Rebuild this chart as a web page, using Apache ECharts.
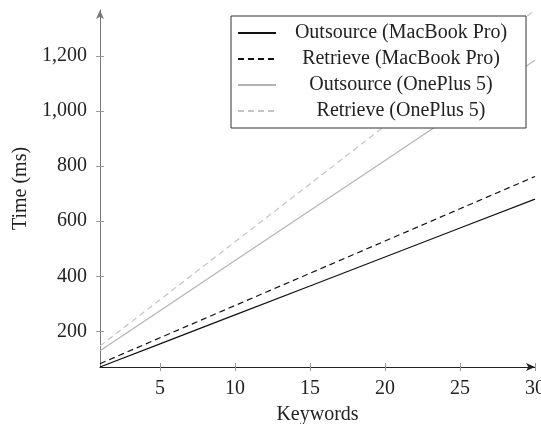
<!DOCTYPE html>
<html>
<head>
<meta charset="utf-8">
<script src="https://cdn.jsdelivr.net/npm/echarts@6/dist/echarts.min.js"></script>
<style>html,body{margin:0;padding:0;background:#fff}#c{width:541px;height:424px}</style>
</head>
<body>
<div id="c"></div>
<script>
var keywords = [1, 5, 10, 15, 20, 25, 30];
var outsourceMac = [71, 155, 260, 365, 470, 575, 680];
var retrieveMac = [83, 177, 294, 411, 528, 645, 762];
var outsourceOnePlus = [130, 275, 457, 639, 820, 1002, 1184];
var retrieveOnePlus = [147, 315, 525, 735, 946, 1156, 1366];
var xTicks = [5, 10, 15, 20, 25, 30];
var yTicks = [200, 400, 600, 800, 1000, 1200];
var seriesNames = ['Outsource (MacBook Pro)', 'Retrieve (MacBook Pro)', 'Outsource (OnePlus 5)', 'Retrieve (OnePlus 5)'];

function pairs(vals) { return keywords.map(function (k, i) { return [k, vals[i]]; }); }
var FONT = 'Liberation Serif';
var FS = 20;
var chart = echarts.init(document.getElementById('c'));
function mk(name, vals, color, type) {
  return { name: name, type: 'line', data: pairs(vals), symbol: 'none', silent: true,
    lineStyle: { color: color, width: 1.2, type: type }, itemStyle: { color: color } };
}
function fmtY(v) { return v >= 1000 ? Math.floor(v / 1000) + ',' + String(v % 1000).padStart(3, '0') : String(v); }
chart.setOption({
  animation: false,
  grid: { left: 100, right: 6, top: 10, bottom: 57, containLabel: false, outerBoundsMode: 'none' },
  xAxis: [{
    type: 'value', min: 1, max: 30, position: 'bottom',
    name: 'Keywords', nameLocation: 'middle', nameGap: 38,
    nameTextStyle: { fontFamily: FONT, fontSize: FS, color: '#222' },
    axisLine: { lineStyle: { color: '#222', width: 1 }, symbol: ['none', 'arrow'], symbolSize: [6, 9] },
    axisTick: { show: true, length: 4, lineStyle: { color: '#999' }, customValues: xTicks },
    axisLabel: { fontFamily: FONT, fontSize: FS, color: '#222', margin: 12, customValues: xTicks },
    splitLine: { show: false }
  }, {
    type: 'value', min: 1, max: 30, position: 'bottom', offset: 0,
    axisLine: { show: false },
    axisTick: { show: true, inside: true, length: 4, lineStyle: { color: '#999' }, customValues: xTicks },
    axisLabel: { show: false },
    splitLine: { show: false }
  }],
  yAxis: [{
    type: 'value', min: 71, max: 1366, position: 'left',
    name: 'Time (ms)', nameLocation: 'middle', nameGap: 68, nameRotate: 90,
    nameTextStyle: { fontFamily: FONT, fontSize: FS, color: '#222' },
    axisLine: { show: true, lineStyle: { color: '#777', width: 1 }, symbol: ['none', 'arrow'], symbolSize: [6, 9] },
    axisTick: { show: true, length: 4, lineStyle: { color: '#999' }, customValues: yTicks },
    axisLabel: { fontFamily: FONT, fontSize: FS, color: '#222', margin: 13, customValues: yTicks, formatter: fmtY },
    splitLine: { show: false }
  }, {
    type: 'value', min: 71, max: 1366, position: 'left', offset: 0,
    axisLine: { show: false },
    axisTick: { show: true, inside: true, length: 4, lineStyle: { color: '#999' }, customValues: yTicks },
    axisLabel: { show: false },
    splitLine: { show: false }
  }],
  legend: {
    left: 231, top: 16, orient: 'vertical',
    backgroundColor: '#fff', borderColor: '#333', borderWidth: 1, borderRadius: 0,
    padding: [7, 5, 7, 6], itemGap: 6, itemWidth: 38, itemHeight: 14,
    itemStyle: { opacity: 0 },
    data: seriesNames,
    formatter: function (n) { return '{c|' + n + '}'; },
    textStyle: { fontFamily: FONT, fontSize: FS, color: '#222',
      rich: { c: { width: 240, align: 'center', fontFamily: FONT, fontSize: FS, lineHeight: 20, color: '#222' } } }
  },
  series: [
    mk(seriesNames[0], outsourceMac, '#111', 'solid'),
    mk(seriesNames[1], retrieveMac, '#111', [6, 4]),
    mk(seriesNames[2], outsourceOnePlus, '#b4b4b4', 'solid'),
    mk(seriesNames[3], retrieveOnePlus, '#c4c4c4', [6, 4])
  ]
});
</script>
</body>
</html>
